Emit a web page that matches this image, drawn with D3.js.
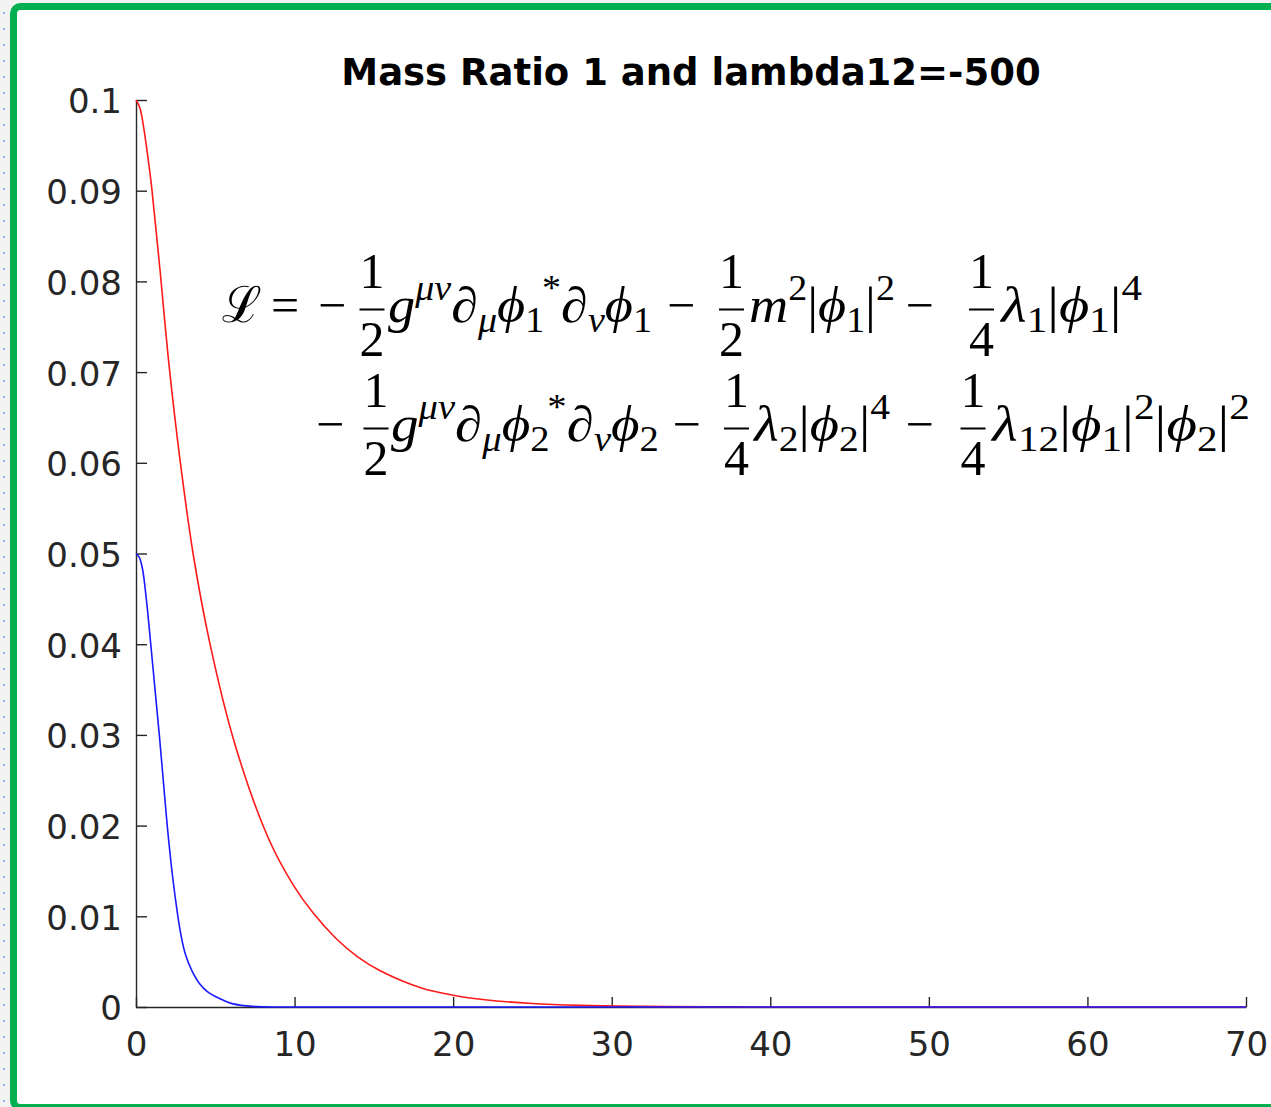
<!DOCTYPE html>
<html>
<head>
<meta charset="utf-8">
<script src="https://cdn.jsdelivr.net/npm/d3@7"></script>
<style>
  body { margin: 0; background: #f2f2f2; }
  svg { display: block; }
</style>
</head>
<body>
<svg id="chart" width="1271" height="1107"></svg>
<script>
(function() {
  // values
  var title = 'Mass Ratio 1 and lambda12=-500';
  var xTicks = [0, 10, 20, 30, 40, 50, 60, 70];
  var yTicks = [0, 0.01, 0.02, 0.03, 0.04, 0.05, 0.06, 0.07, 0.08, 0.09, 0.1];
  var yTickLabels = ['0', '0.01', '0.02', '0.03', '0.04', '0.05', '0.06', '0.07', '0.08', '0.09', '0.1'];

  var phi1 = [
    [0, 0.1], [0.25, 0.0991], [0.5, 0.0968], [0.75, 0.0937], [1.0, 0.0902], [1.5, 0.0815],
    [2.1, 0.0705], [2.8, 0.0600], [3.6, 0.0500], [4.67, 0.0400], [6.2, 0.0292],
    [8.3, 0.0188], [9.9, 0.0135], [11.2, 0.0103], [12.65, 0.0075], [14, 0.0055],
    [15.4, 0.0040], [18, 0.0021], [20, 0.0013], [22, 0.0008], [25, 0.00038],
    [28, 0.00018], [32, 0.00007], [36, 0.00002], [40, 0], [55, 0], [70, 0]
  ];
  var phi2 = [
    [0, 0.05], [0.2, 0.0496], [0.4, 0.0484], [0.65, 0.0450], [0.93, 0.0400], [1.2, 0.0350],
    [1.47, 0.0300], [1.72, 0.0250], [1.97, 0.0200], [2.3, 0.0145], [2.6, 0.0105],
    [2.85, 0.0078], [3.1, 0.0059], [3.5, 0.0041], [4.0, 0.0026], [4.5, 0.0017],
    [5.3, 0.0009], [6.0, 0.0004], [6.8, 0.00015], [7.6, 0.00004], [9, 0], [20, 0], [70, 0]
  ];

  var svg = d3.select('#chart');

  // page chrome: dotted margin + green frame
  svg.append('g').selectAll('rect')
    .data(d3.range(0, 1107, 16))
    .enter().append('rect')
      .attr('x', 3).attr('y', function(d) { return d + 12; })
      .attr('width', 2).attr('height', 2)
      .attr('fill', '#8db4ee');

  svg.append('rect')
    .attr('x', 13.5).attr('y', 6.5)
    .attr('width', 1300).attr('height', 1101)
    .attr('rx', 7)
    .attr('fill', '#fff')
    .attr('stroke', '#00b050')
    .attr('stroke-width', 7);

  var x = d3.scaleLinear().domain([0, 70]).range([136, 1246]);
  var y = d3.scaleLinear().domain([0, 0.1]).range([1007, 100]);

  var axisColor = '#262626';

  var xAxis = svg.append('g')
    .attr('transform', 'translate(0,' + y(0) + ')')
    .call(d3.axisBottom(x).tickValues(xTicks).tickSizeInner(-10).tickSizeOuter(0).tickPadding(25));
  var yAxis = svg.append('g')
    .attr('transform', 'translate(' + x(0) + ',0)')
    .call(d3.axisLeft(y).tickValues(yTicks).tickSizeInner(-11).tickSizeOuter(0).tickPadding(14)
      .tickFormat(function(d, i) { return yTickLabels[i]; }));

  [xAxis, yAxis].forEach(function(a) {
    a.select('.domain').attr('stroke', axisColor).attr('stroke-width', 1.4);
    a.selectAll('.tick line').attr('stroke', axisColor).attr('stroke-width', 1.4);
    a.selectAll('.tick text')
      .attr('fill', axisColor)
      .attr('font-family', 'DejaVu Sans')
      .attr('font-size', 34);
  });
  yAxis.selectAll('.tick text').attr('dy', '0.38em');

  var line = d3.line()
    .x(function(d) { return x(d[0]); })
    .y(function(d) { return y(d[1]); })
    .curve(d3.curveCatmullRom.alpha(0.5));

  svg.append('path').datum(phi1)
    .attr('d', line).attr('fill', 'none')
    .attr('stroke', '#ff1a1a').attr('stroke-width', 1.6);
  svg.append('path').datum(phi2)
    .attr('d', line).attr('fill', 'none')
    .attr('stroke', '#1a1aff').attr('stroke-width', 1.6);

  svg.append('text')
    .attr('x', 691).attr('y', 85)
    .attr('text-anchor', 'middle')
    .attr('font-family', 'DejaVu Sans')
    .attr('font-weight', 'bold')
    .attr('font-size', 37)
    .attr('fill', '#000')
    .text(title);

  // the Lagrangian, laid out piece by piece
  var F = 50,
      serif = "'Liberation Serif', 'DejaVu Serif', serif",
      eq = svg.append('g').attr('fill', '#000');

  function run(x0, x1, base, tokens) {
    var t = eq.append('text').attr('font-family', serif).attr('font-size', F),
        cur = 0;
    tokens.forEach(function(k) {
      var f = k[1] || '',
          shift = f.indexOf('^') >= 0 ? -22 : (f.indexOf('_') >= 0 ? 10 : 0),
          size = shift ? F * 0.7 : F;
      t.append('tspan')
        .attr('font-size', size)
        .attr('font-style', f.indexOf('i') >= 0 ? 'italic' : 'normal')
        .attr('dy', shift - cur)
        .attr('dx', f.indexOf('b') >= 0 ? -2 : 0)
        .text(k[0]);
      cur = shift;
    });
    var b = t.node().getBBox(),
        s = (x1 - x0) / b.width;
    t.attr('transform', 'translate(' + (x0 - b.x * s) + ',' + base + ') scale(' + s + ',1)');
  }

  function sym(cx, base, ch) {
    eq.append('text').attr('x', cx).attr('y', base)
      .attr('text-anchor', 'middle')
      .attr('font-family', serif).attr('font-size', F)
      .text(ch);
  }

  function frac(cx, base, num, den) {
    sym(cx, base - 34, num);
    sym(cx, base + 34, den);
    eq.append('line')
      .attr('x1', cx - 12.5).attr('x2', cx + 12.5)
      .attr('y1', base - 12.5).attr('y2', base - 12.5)
      .attr('stroke', '#000').attr('stroke-width', 2);
  }

  var b1 = 322, b2 = 441;

  run(222, 262, b1, [['ℒ', '']]);
  sym(285, b1, '=');
  sym(332, b1, '−');
  frac(372, b1, '1', '2');
  run(388, 652, b1, [['g', 'i'], ['μν', 'i^'], ['∂', ''], ['μ', 'i_'], ['ϕ', 'i'], ['1', '_'], ['*', '^b'],
    ['∂', ''], ['ν', 'i_'], ['ϕ', 'i'], ['1', '_']]);
  sym(681, b1, '−');
  frac(731.5, b1, '1', '2');
  run(749, 895, b1, [['m', 'i'], ['2', '^'], ['|', ''], ['ϕ', 'i'], ['1', '_'], ['|', ''], ['2', '^']]);
  sym(919.5, b1, '−');
  frac(981.5, b1, '1', '4');
  run(999, 1142, b1, [['λ', 'i'], ['1', '_'], ['|', ''], ['ϕ', 'i'], ['1', '_'], ['|', ''], ['4', '^']]);

  sym(330, b2, '−');
  frac(376, b2, '1', '2');
  run(391, 659, b2, [['g', 'i'], ['μν', 'i^'], ['∂', ''], ['μ', 'i_'], ['ϕ', 'i'], ['2', '_'], ['*', '^b'],
    ['∂', ''], ['ν', 'i_'], ['ϕ', 'i'], ['2', '_']]);
  sym(686.5, b2, '−');
  frac(736.5, b2, '1', '4');
  run(752, 890, b2, [['λ', 'i'], ['2', '_'], ['|', ''], ['ϕ', 'i'], ['2', '_'], ['|', ''], ['4', '^']]);
  sym(919.5, b2, '−');
  frac(973, b2, '1', '4');
  run(990, 1250, b2, [['λ', 'i'], ['12', '_'], ['|', ''], ['ϕ', 'i'], ['1', '_'], ['|', ''], ['2', '^'],
    ['|', ''], ['ϕ', 'i'], ['2', '_'], ['|', ''], ['2', '^']]);
})();
</script>
</body>
</html>
